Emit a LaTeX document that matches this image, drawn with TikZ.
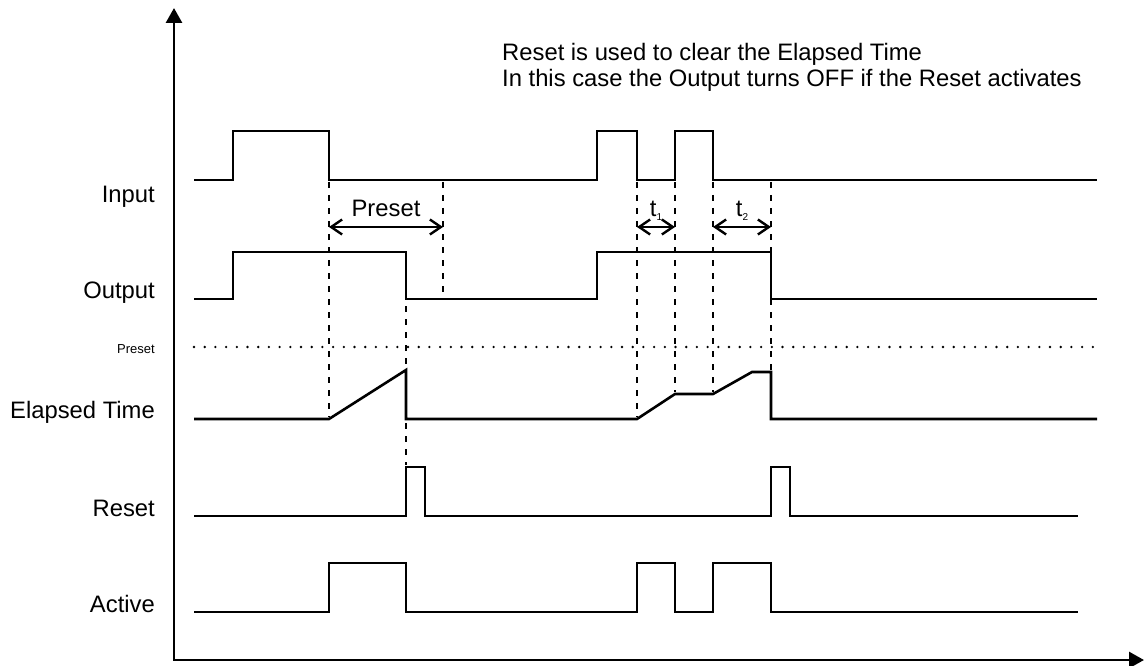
\documentclass[tikz,border=0pt]{standalone}
\usepackage{fontspec}
\setmainfont{Liberation Sans}
\usetikzlibrary{arrows.meta,positioning,calc}

\begin{document}
\begin{tikzpicture}[x=1pt,y=-1pt]

		\tikzset{line/.style={draw,line width=2.6pt,line join=miter}}
		\tikzset{axis/.style={line,line width=2.8pt,{Triangle[length=15pt,width=16pt]}-{Triangle[length=15pt,width=16pt]}}}
		\tikzset{guide/.style={draw,line width=2.8pt,dash pattern=on 6pt off 7pt}}
		\tikzset{level/.style={draw,line width=2.6pt,line cap=round,dash pattern=on 0pt off 10.7pt}}
		\tikzset{span/.style={draw,line width=1.1pt,{Straight Barb[length=11pt,width=15pt,line width=2.4pt]}-{Straight Barb[length=11pt,width=15pt,line width=2.4pt]}}}
		\tikzset{signame/.style={anchor=east,inner sep=0pt}}
		\tikzset{tag/.style={anchor=base,inner sep=0pt}}

		\tikzset{font=\fontsize{23.8}{26}\selectfont}

		\useasboundingbox (0,0) rectangle (1144,666);

		% Axes.
		\coordinate (origin) at (174,660);
		\coordinate (ytop) at (174,8);
		\coordinate (xend) at (1144,660);
		\path[axis] (ytop) -- (origin) -- (xend);

		% Signal names.
		\node[signame] (input) at (155,197) {Input};
		\node[signame] (output) at (155,293) {Output};
		\node[signame,font=\fontsize{13}{15}\selectfont] (presetlvl) at (155,349) {Preset};
		\node[signame] (elapsed) at (155,412) {Elapsed Time};
		\node[signame] (reset) at (155,508) {Reset};
		\node[signame] (active) at (155,604) {Active};

		% Note.
		\node[anchor=base west,inner sep=0pt] (note1) at (502,61) {Reset is used to clear the Elapsed Time};
		\node[anchor=base west,inner sep=0pt] (note2) at (502,87) {In this case the Output turns OFF if the Reset activates};

		% Waveforms.
		\path[line] (194,180) -| (233,131) -| (329,180) -| (597,131) -| (637,180) -| (675,131) -| (713,180) -- (1097,180);
		\path[line] (194,299) -| (233,252) -| (406,299) -| (597,252) -| (771,299) -- (1097,299);
		\path[line] (194,419) -- (329,419) -- (406,370) -- (406,419) -- (637,419) -- (675,394) -- (713,394) -- (752,372) -- (771,372) -- (771,419) -- (1097,419);
		\path[line] (194,516) -| (406,467) -| (425,516) -| (771,467) -| (790,516) -- (1078,516);
		\path[line] (194,612) -| (329,563) -| (406,612) -| (637,563) -| (675,612) -| (713,563) -| (771,612) -- (1078,612);

		% Preset level.
		\path[level] (194,347) -- (1097,347);

		% Guides.
		\path[guide] (329,182) -- (329,417);
		\path[guide] (406,254) -- (406,465);
		\path[guide] (443,182) -- (443,292);
		\path[guide] (637,182) -- (637,417);
		\path[guide] (675,182) -- (675,392);
		\path[guide] (713,182) -- (713,392);
		\path[guide] (771,182) -- (771,370);

		% Time spans.
		\coordinate (pa) at (329,227);
		\coordinate (pb) at (443,227);
		\coordinate (ta) at (637,227);
		\coordinate (tb) at (675,227);
		\coordinate (tc) at (713,227);
		\coordinate (td) at (771,227);

		\path[span] (pa) -- (pb);
		\path[span] (ta) -- (tb);
		\path[span] (tc) -- (td);

		\node[tag] (presetlbl) at ($(pa)!0.5!(pb)+(0,-11)$) {Preset};
		\node[tag] (t1) at ($(ta)!0.5!(tb)+(0,-11)$) {t\raisebox{-0.35ex}{\fontsize{10}{10}\selectfont 1}};
		\node[tag] (t2) at ($(tc)!0.5!(td)+(0,-11)$) {t\raisebox{-0.35ex}{\fontsize{10}{10}\selectfont 2}};

	\end{tikzpicture}
\end{document}
